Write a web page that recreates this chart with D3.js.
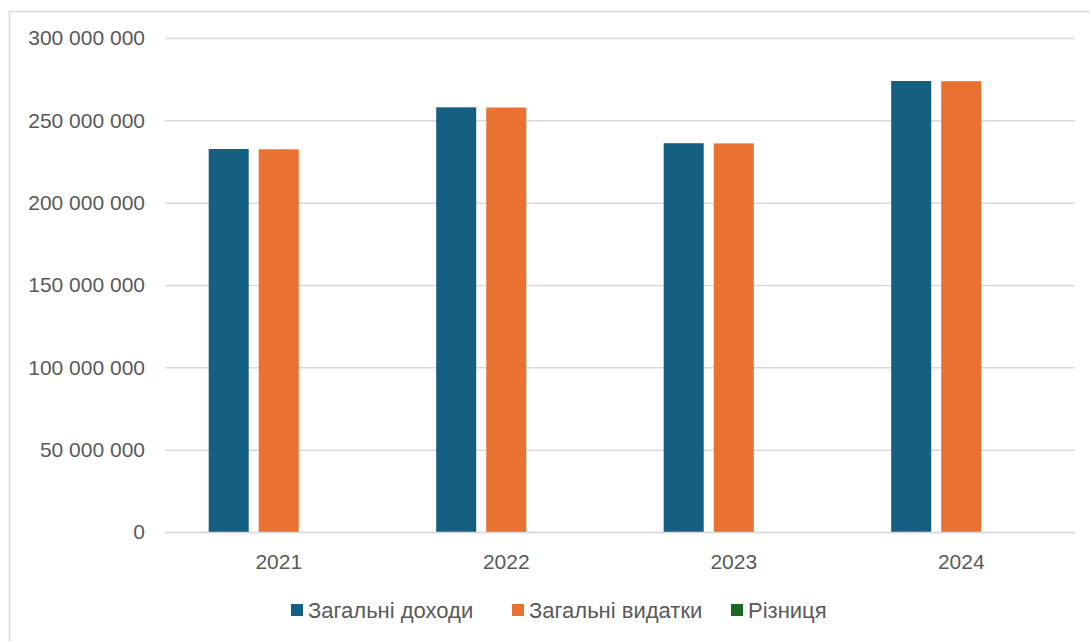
<!DOCTYPE html>
<html>
<head>
<meta charset="utf-8">
<script src="https://cdn.jsdelivr.net/npm/d3@7"></script>
<style>
  body { margin: 0; background: #fff; }
  svg { display: block; font-family: "Liberation Sans", Arial, sans-serif; }
</style>
</head>
<body>
<div id="chart"></div>
<script>
const years = ["2021", "2022", "2023", "2024"];
const seriesNames = ["Загальні доходи", "Загальні видатки", "Різниця"];
const incomes = [232600000, 257900000, 236100000, 273900000];
const expenses = [232400000, 257800000, 236000000, 273800000];
const difference = [0, 0, 0, 0];
const yTicks = [0, 50000000, 100000000, 150000000, 200000000, 250000000, 300000000];

const colors = ["#156082", "#e97132", "#196b24"];
const seriesValues = [incomes, expenses, difference];

const width = 1090;
const height = 641;
const plot = { left: 165, right: 1075, top: 38, bottom: 532 };

const svg = d3.select("#chart")
    .append("svg")
    .attr("width", width)
    .attr("height", height);

// chart frame
svg.append("rect")
    .attr("x", 9.5)
    .attr("y", 11.5)
    .attr("width", 1100)
    .attr("height", 700)
    .attr("fill", "none")
    .attr("stroke", "#d9d9d9")
    .attr("stroke-width", 1.5);

const y = d3.scaleLinear()
    .domain([0, 300000000])
    .range([plot.bottom, plot.top]);

const x0 = d3.scaleBand()
    .domain(years)
    .range([plot.left, plot.right])
    .paddingInner(0.34)
    .paddingOuter(0.17);

const x1 = d3.scaleBand()
    .domain(seriesNames)
    .range([0, x0.bandwidth()])
    .paddingInner(0.2)
    .paddingOuter(0.1);

const fmt = v => d3.format(",")(v).replace(/,/g, " ");

// gridlines + y labels
const yAxis = d3.axisLeft(y)
    .tickValues(yTicks)
    .tickSize(-(plot.right - plot.left))
    .tickFormat(fmt)
    .tickPadding(20);

const gy = svg.append("g")
    .attr("transform", `translate(${plot.left},0)`)
    .call(yAxis);
gy.select(".domain").remove();
gy.selectAll(".tick line")
    .attr("stroke", "#d9d9d9")
    .attr("stroke-width", 1.5);
gy.selectAll(".tick text")
    .attr("fill", "#595959")
    .style("font-size", "21px");

// bars
const groups = svg.append("g")
    .selectAll("g")
    .data(years)
    .enter()
    .append("g")
    .attr("transform", d => `translate(${x0(d)},0)`);

groups.selectAll("rect")
    .data((d, i) => seriesNames.map((s, j) => ({ name: s, value: seriesValues[j][i], color: colors[j] })))
    .enter()
    .append("rect")
    .attr("x", d => x1(d.name))
    .attr("y", d => y(d.value))
    .attr("width", x1.bandwidth())
    .attr("height", d => y(0) - y(d.value))
    .attr("fill", d => d.color);

// x axis
const gx = svg.append("g")
    .attr("transform", `translate(0,${plot.bottom})`)
    .call(d3.axisBottom(x0).tickSize(0).tickPadding(22));
gx.select(".domain")
    .attr("stroke", "#d9d9d9")
    .attr("stroke-width", 1.5);
gx.selectAll(".tick text")
    .attr("fill", "#595959")
    .style("font-size", "21px");

// legend
const legendX = [291, 512, 731];
const legend = svg.selectAll(".legend")
    .data(seriesNames)
    .enter()
    .append("g")
    .attr("class", "legend")
    .attr("transform", (d, i) => `translate(${legendX[i]}, 610)`);

legend.append("rect")
    .attr("x", 0)
    .attr("y", -6)
    .attr("width", 12)
    .attr("height", 12)
    .attr("fill", (d, i) => colors[i]);

legend.append("text")
    .attr("x", 17)
    .attr("y", 0)
    .attr("dy", "0.35em")
    .attr("fill", "#595959")
    .style("font-size", "22px")
    .text(d => d);
</script>
</body>
</html>
